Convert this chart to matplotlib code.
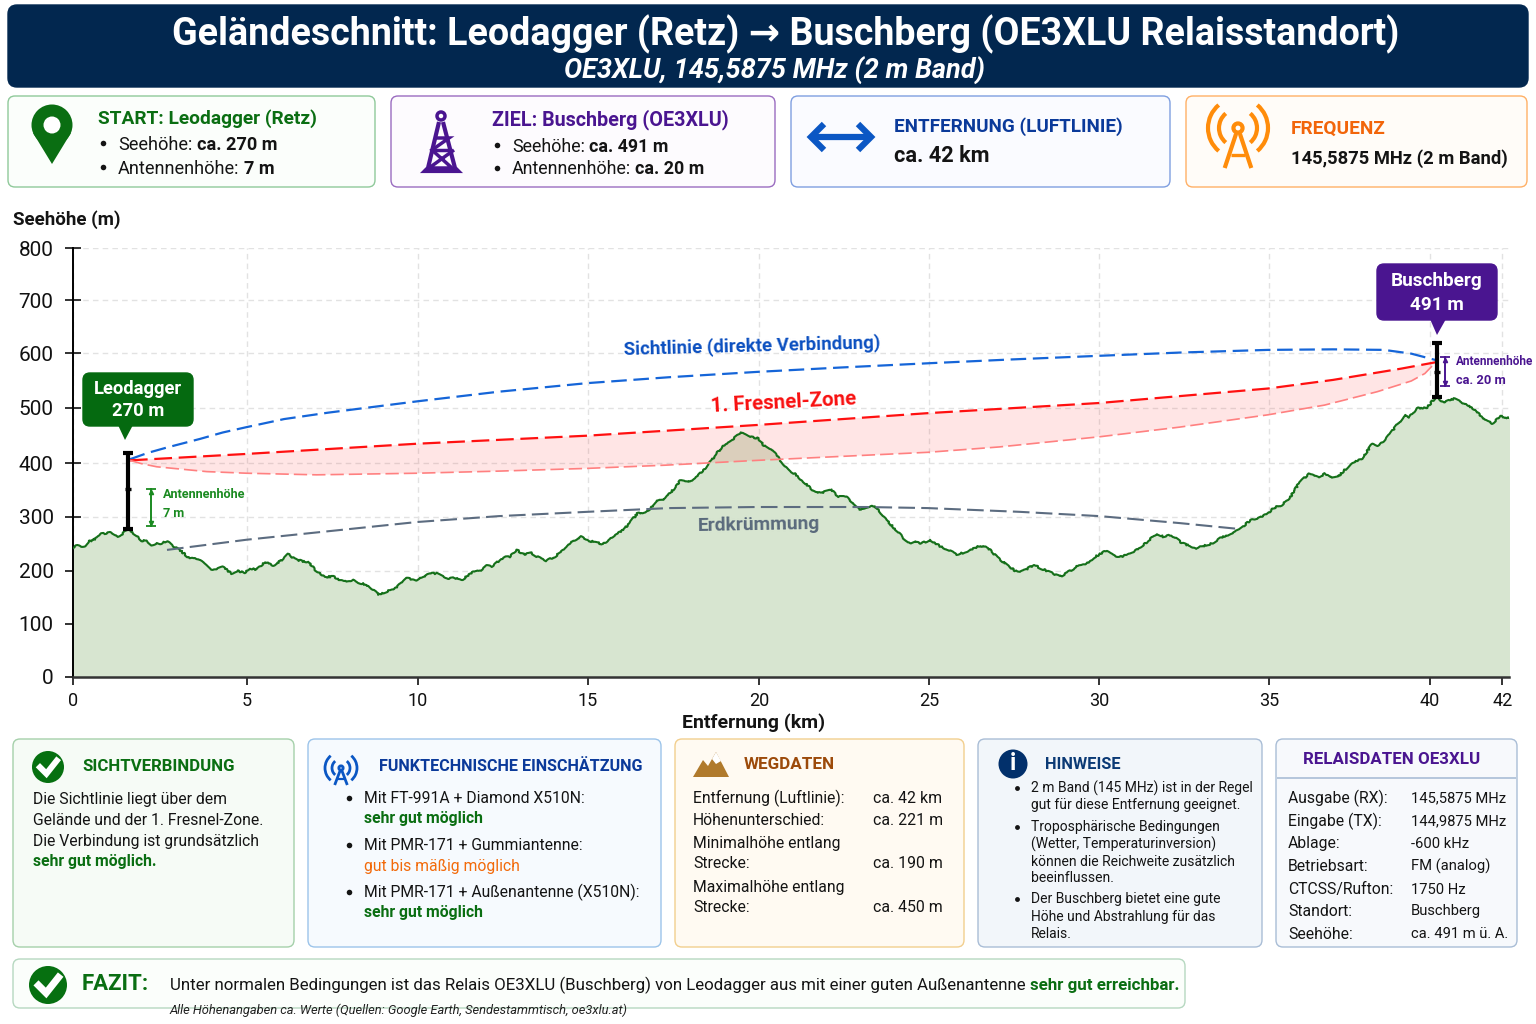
import matplotlib
matplotlib.use('Agg')
import matplotlib.pyplot as plt
from matplotlib.patches import FancyBboxPatch, Circle, Polygon, Arc

plt.rcParams['font.family'] = ['Roboto', 'DejaVu Sans']

# terrain profile
terrain_km = [0.0, .13, .32, .45, .70, .84, 1.09, 1.23, 1.36, 1.53, 1.65, 1.82, 2.02, 2.16, 2.31, 2.46, 2.56, 2.75, 2.95, 3.19,
              3.39, 3.58, 3.78, 4.02, 4.22, 4.40, 4.66, 4.81, 5.05, 5.18, 5.39, 5.64, 5.88, 6.13, 6.32, 6.52, 6.72, 6.91, 7.11, 7.40,
              7.65, 7.94, 8.23, 8.43, 8.62, 8.97, 9.21, 9.51, 9.80, 10.09, 10.48, 10.68, 11.02, 11.22, 11.41, 11.76, 11.95, 12.15, 12.30, 12.64,
              12.83, 13.03, 13.23, 13.47, 13.67, 13.89, 14.16, 14.45, 14.69, 14.92, 15.13, 15.38, 15.56, 15.82, 16.06, 16.31, 16.57, 16.85, 17.19, 17.34,
              17.58, 17.83, 18.07, 18.32, 18.66, 18.90, 19.15, 19.34, 19.61, 19.83, 20.13, 20.27, 20.52, 20.76, 21.06, 21.20, 21.45, 21.69, 21.94, 22.28,
              22.48, 22.72, 23.11, 23.46, 23.60, 23.85, 24.09, 24.39, 24.58, 24.73, 24.92, 25.17, 25.46, 25.71, 25.95, 26.25, 26.64, 26.88, 27.13, 27.42,
              27.72, 27.97, 28.22, 28.47, 28.73, 28.98, 29.23, 29.53, 29.73, 29.98, 30.33, 30.73, 31.14, 31.49, 31.82, 32.04, 32.24, 32.59, 32.99, 33.44,
              33.70, 34.25, 34.55, 35.05, 35.25, 35.50, 35.75, 36.0, 36.29, 36.56, 36.76, 36.91, 37.16, 37.56, 37.86, 38.16, 38.31, 38.57, 38.92, 39.12,
              39.22, 39.47, 39.77, 40.02, 40.27, 40.55, 40.87, 41.18, 41.38, 41.68, 41.93, 42.17]
terrain_m = [240, 246, 243, 252, 259, 267, 269, 263, 262, 271, 274, 265, 254, 254, 246, 250, 248, 254, 244, 234,
             223, 223, 215, 201, 201, 205, 193, 198, 195, 203, 200, 214, 208, 218, 229, 220, 216, 215, 200, 187,
             187, 178, 181, 175, 172, 154, 159, 168, 184, 181, 193, 193, 183, 185, 181, 196, 198, 208, 206, 223,
             224, 237, 229, 231, 223, 216, 225, 240, 254, 262, 254, 251, 247, 261, 270, 284, 305, 308, 330, 329,
             346, 366, 363, 374, 396, 417, 435, 441, 456, 448, 445, 433, 425, 405, 383, 379, 364, 350, 343, 349,
             336, 336, 313, 320, 315, 296, 279, 259, 249, 254, 249, 256, 244, 237, 228, 234, 245, 240, 224, 209,
             196, 200, 209, 201, 195, 187, 196, 208, 209, 223, 235, 223, 234, 249, 267, 261, 265, 249, 240, 249,
             259, 275, 291, 303, 315, 321, 336, 361, 379, 372, 379, 372, 374, 400, 408, 435, 431, 445, 473, 489,
             483, 501, 503, 522, 512, 519, 509, 498, 483, 473, 486, 483]

los_km = [1.67, 2.2, 2.76, 3.73, 4.4, 5.1, 6.2, 7.5, 10.1, 12.5, 15.1, 17.5, 20.1, 22.5, 25.1, 27.5, 30.15, 32.5, 35.1, 37.0, 38.5, 39.3, 40.02]
los_m = [406, 418, 428, 444, 456, 466, 481, 493, 514, 532, 548, 559, 569, 577, 585, 592, 599, 605, 610, 611, 610, 603, 591]

fresnel_top_km = [1.67, 5.1, 10.1, 15.1, 20.1, 25.1, 30.15, 35.1, 37.0, 39.0, 40.02]
fresnel_top_m = [404, 416, 435, 450, 470, 492, 511, 538, 554, 575, 587]
fresnel_low_km = [1.67, 2.0, 2.46, 3.93, 5.1, 7.15, 10.1, 12.54, 15.1, 17.4, 20.1, 25.1, 27.2, 30.15, 32.5, 35.1, 36.75, 38.3, 39.3, 39.7, 40.02]
fresnel_low_m = [404, 398, 392, 383, 380, 377, 380, 384, 389, 395, 404, 419, 429, 448, 466, 489, 507, 532, 552, 566, 587]

earth_km = [2.76, 5.1, 10.1, 12.5, 15.1, 17.5, 20.1, 23.3, 25.1, 27.8, 30.15, 32.5, 34.25]
earth_m = [237, 256, 289, 300, 308, 315, 317, 317, 315, 308, 300, 287, 276]

# the printed scale is slightly uneven, so ticks sit where the labels are drawn
xtick_pos = [0, 5.11, 10.13, 15.12, 20.15, 25.14, 30.13, 35.13, 39.85, 41.97]
xtick_labels = ['0', '5', '10', '15', '20', '25', '30', '35', '40', '42']
ytick_pos = [0, 99, 198, 299, 399, 502, 604, 703, 800]
ytick_labels = ['0', '100', '200', '300', '400', '500', '600', '700', '800']

mast_a = [1.62, 276, 350, 418]
mast_b = [40.05, 522, 569, 623]

GREEN = '#0a6e12'
PURPLE = '#4a1590'
BLUE = '#0b57c4'
NAVY = '#0b3a9a'
ORANGE = '#f47a10'
TEXT = '#141414'

hint_lines = [['2 m Band (145 MHz) ist in der Regel', 'gut für diese Entfernung geeignet.'],
              ['Troposphärische Bedingungen', '(Wetter, Temperaturinversion)', 'können die Reichweite zusätzlich', 'beeinflussen.'],
              ['Der Buschberg bietet eine gute', 'Höhe und Abstrahlung für das', 'Relais.']]
relay_keys = ['Ausgabe (RX):', 'Eingabe (TX):', 'Ablage:', 'Betriebsart:', 'CTCSS/Rufton:', 'Standort:', 'Seehöhe:']
relay_vals = ['145,5875 MHz', '144,9875 MHz', '-600 kHz', 'FM (analog)', '1750 Hz', 'Buschberg', 'ca. 491 m ü. A.']

fig = plt.figure(figsize=(15.36, 10.24), dpi=100)

# chart area, placed by pixels
L, R, T, B = 73, 1509, 248, 677
ax = fig.add_axes([L / 1536, 1 - B / 1024, (R - L) / 1536, (B - T) / 1024])
ax.set_xlim(0, 42.17)
ax.set_ylim(0, 800)
ax.grid(True, color='#e2e2e2', linestyle=(0, (4, 3)), linewidth=1)
ax.set_axisbelow(True)
ax.fill_between(terrain_km, terrain_m, 0, color='#d7e5d0', zorder=2)
terrain_line, = ax.plot(terrain_km, terrain_m, color='#15701a', linewidth=1.5, zorder=4)
terrain_line.set_sketch_params(scale=0.8, length=14, randomness=40)

ax.fill(fresnel_top_km + fresnel_low_km[::-1], fresnel_top_m + fresnel_low_m[::-1], color='#ff3030', alpha=0.12, lw=0, zorder=3)
ax.plot(los_km, los_m, color='#1565d8', lw=1.6, ls=(0, (7, 3)), zorder=5)
ax.plot(fresnel_top_km, fresnel_top_m, color='#ff1010', lw=1.6, ls=(0, (8, 3)), zorder=5)
ax.plot(fresnel_low_km, fresnel_low_m, color='#ff8080', lw=1.2, ls=(0, (8, 3)), zorder=5)
ax.plot(earth_km, earth_m, color='#5c6c80', lw=1.5, ls=(0, (8, 3)), zorder=5)

# masts
for m in (mast_a, mast_b):
    ax.plot([m[0], m[0]], [m[1], m[3]], color='black', lw=3, zorder=6, solid_capstyle='butt')
    ax.plot([m[0], m[0]], [m[1], m[3]], color='black', marker='_', ms=6.5, mew=3, lw=0, zorder=6)
    ax.plot([m[0]], [m[2]], color='black', marker='_', ms=5, mew=2.4, lw=0, zorder=6)

# antenna height brackets
for x, lo, hi, col in ((2.29, 282, 350, '#1a8a20'), (40.3, 543, 597, PURPLE)):
    ax.plot([x, x], [lo, hi], color=col, lw=1.4, zorder=6)
    ax.plot([x, x], [lo, hi], color=col, lw=0, marker='_', ms=7, mew=1.3, zorder=6)
    ax.plot([x], [hi - 5], color=col, marker='^', ms=3, lw=0, zorder=6)
    ax.plot([x], [lo + 5], color=col, marker='v', ms=3, lw=0, zorder=6)

ax.text(19.95, 616, 'Sichtlinie (direkte Verbindung)', color='#0b4fc0', fontsize=13.4, fontweight='bold', rotation=1.5, ha='center', va='center', zorder=7, rotation_mode='anchor')
ax.text(20.85, 511, '1. Fresnel-Zone', color='#f81010', fontsize=14.8, fontweight='bold', rotation=3, ha='center', va='center', zorder=7, rotation_mode='anchor')
ax.text(20.15, 283, 'Erdkrümmung', color='#5a6a7c', fontsize=13.9, fontweight='bold', rotation=1, ha='center', va='center', zorder=7, rotation_mode='anchor')

for s in ('top', 'right'):
    ax.spines[s].set_visible(False)
ax.spines['left'].set_linewidth(1.4)
ax.spines['bottom'].set_linewidth(1.8)
ax.spines['bottom'].set_color('#333333')
ax.set_xticks(xtick_pos)
ax.set_xticklabels(xtick_labels)
ax.set_yticks(ytick_pos)
ax.set_yticklabels(ytick_labels)
ax.tick_params(axis='x', length=6, width=1.2, labelsize=13, pad=5, colors='#111111')
ax.tick_params(axis='y', direction='inout', length=12, width=1.2, labelsize=15, pad=8, colors='#111111')

# everything else lives on an overlay in pixel coordinates
ov = fig.add_axes([0, 0, 1, 1], zorder=10)
ov.set_xlim(0, 1536)
ov.set_ylim(1024, 0)
ov.axis('off')


def txt(x, y, s, size, color=TEXT, weight='normal', style='normal', ha='left', va='center', rot=0):
    return ov.text(x, y + 1.5, s, fontsize=size, color=color, fontweight=weight, fontstyle=style, ha=ha, va=va, rotation=rot)


def runs(x, y, parts, size):
    rend = fig.canvas.get_renderer()
    for s, weight, color in parts:
        t = txt(x, y, s, size, color, weight)
        x += t.get_window_extent(rend).width + size * 0.33


def box(x0, y0, x1, y1, face, edge, lw=1.0, r=7):
    ov.add_patch(FancyBboxPatch((x0, y0), x1 - x0, y1 - y0, boxstyle=f'round,pad=0,rounding_size={r}', fc=face, ec=edge, lw=lw))


def bullet(x, y, size=3.2, color=TEXT):
    ov.plot([x], [y], 'o', color=color, ms=size, mew=0)


def seg(xs, ys, color, lw=3):
    ov.plot(xs, ys, color=color, lw=lw, solid_capstyle='butt', solid_joinstyle='miter')


def radio_icon(cx, cy, base, r1, r2, color, lw=3):
    # small mast with radio waves either side
    ov.add_patch(Circle((cx, cy), r1 * 0.24, fc='white', ec=color, lw=lw))
    seg([cx - r1 * 0.1, cx - r1 * 0.7, cx - r1 * 0.7], [cy + r1 * 0.3, base, base], color, lw)
    seg([cx + r1 * 0.1, cx + r1 * 0.7], [cy + r1 * 0.3, base], color, lw)
    seg([cx - r1 * 0.35, cx + r1 * 0.35], [base - r1 * 0.7, base - r1 * 0.7], color, lw * 0.8)
    for r in (r1, r2):
        for a, b in ((-50, 50), (130, 230)):
            ov.add_patch(Arc((cx, cy), 2 * r, 2 * r, theta1=a, theta2=b, color=color, lw=lw))


def check_icon(cx, cy, r):
    ov.add_patch(Circle((cx, cy), r, fc='#067010', ec='none'))
    ov.plot([cx - r * .5, cx - r * .1, cx + r * .55], [cy + r * .02, cy + r * .42, cy - r * .4], color='white', lw=r * .27, solid_joinstyle='miter')


# header
box(8, 5, 1528, 87, '#02274f', '#02274f', r=9)
txt(786, 33, 'Geländeschnitt: Leodagger (Retz) → Buschberg (OE3XLU Relaisstandort)', 27.1, 'white', 'bold', ha='center')
txt(774, 69, 'OE3XLU, 145,5875 MHz (2 m Band)', 19.5, 'white', 'bold', 'italic', ha='center')

# top cards
box(8, 96, 375, 187, '#fbfefb', '#8fc99a')
box(391, 96, 775, 187, '#fdfbfe', '#9a6cc0')
box(791, 96, 1170, 187, '#fafbff', '#7f9fe0')
box(1186, 96, 1527, 187, '#fffcf8', '#ffb066')

ov.add_patch(Polygon([(33.1, 133), (52, 164), (70.9, 133)], fc=GREEN, ec='none'))
ov.add_patch(Circle((52, 125), 20.5, fc=GREEN, ec='none'))
ov.add_patch(Circle((52, 125), 8.5, fc='white', ec='none'))
txt(98, 117, 'START: Leodagger (Retz)', 13.75, GREEN, 'bold')
bullet(103, 143, 4)
runs(118, 143, [('Seehöhe:', 'normal', TEXT), ('ca. 270 m', 'bold', TEXT)], 13.1)
bullet(103, 167, 4)
runs(118, 167, [('Antennenhöhe:', 'normal', TEXT), ('7 m', 'bold', TEXT)], 13.1)

# tower icon
ov.add_patch(Circle((441, 116), 4, fc='white', ec=PURPLE, lw=2.5))
seg([439, 428, 425, 458, 455, 443], [122, 168, 171, 171, 168, 122], PURPLE, 3)
seg([434, 449, 432, 452, 429, 454], [138, 138, 150, 168, 168, 150], PURPLE, 2.5)
seg([432, 450], [150, 150], PURPLE, 2.5)
txt(492, 118, 'ZIEL: Buschberg (OE3XLU)', 14.2, PURPLE, 'bold')
bullet(497, 145, 4)
runs(512, 145, [('Seehöhe:', 'normal', TEXT), ('ca. 491 m', 'bold', TEXT)], 12.9)
bullet(497, 168, 4)
runs(512, 168, [('Antennenhöhe:', 'normal', TEXT), ('ca. 20 m', 'bold', TEXT)], 12.9)

seg([814, 868], [137, 137], BLUE, 4.5)
seg([824, 811, 824], [124, 137, 150], BLUE, 4.5)
seg([858, 871, 858], [124, 137, 150], BLUE, 4.5)
txt(894, 125, 'ENTFERNUNG (LUFTLINIE)', 13.6, NAVY, 'bold')
txt(894, 155, 'ca. 42 km', 15.7, TEXT, 'bold')

radio_icon(1238, 128, 168, 19, 30, '#ff8c0a', 3)
txt(1291, 127, 'FREQUENZ', 13.7, '#f2650a', 'bold')
txt(1291, 157, '145,5875 MHz (2 m Band)', 13.25, TEXT, 'bold')

# axis titles
txt(13, 218, 'Seehöhe (m)', 13.5, TEXT, 'bold')
txt(754, 721, 'Entfernung (km)', 14, TEXT, 'bold', ha='center')

# site callouts
box(83, 373, 193, 426, '#056a10', '#056a10', r=7)
ov.add_patch(Polygon([(118, 425), (133, 425), (125, 440)], fc='#056a10', ec='none'))
txt(138, 387, 'Leodagger', 13.2, 'white', 'bold', ha='center')
txt(138, 410, '270 m', 13.2, 'white', 'bold', ha='center')
box(1377, 264, 1497, 320, PURPLE, PURPLE, r=7)
ov.add_patch(Polygon([(1430, 319), (1446, 319), (1437, 335)], fc=PURPLE, ec='none'))
txt(1437, 279, 'Buschberg', 13.7, 'white', 'bold', ha='center')
txt(1437, 303, '491 m', 13.7, 'white', 'bold', ha='center')
txt(163, 493, 'Antennenhöhe', 9.1, '#1a8a20', 'bold')
txt(163, 512, '7 m', 9.1, '#1a8a20', 'bold')
txt(1456, 360, 'Antennenhöhe', 8.5, PURPLE, 'bold')
txt(1456, 379, 'ca. 20 m', 9.3, PURPLE, 'bold')

# lower panels
box(13, 739, 294, 947, '#f6fbf6', '#a5d0aa')
box(308, 739, 661, 947, '#f6fafe', '#9cc4ea')
box(675, 739, 964, 947, '#fffaf2', '#f2cf8e')
box(978, 739, 1262, 947, '#f2f6fa', '#a9bdd6')
box(1276, 739, 1517, 947, '#f7f9fc', '#a9bdd6')

check_icon(48, 767, 16)
txt(82, 765, 'SICHTVERBINDUNG', 12.1, GREEN, 'bold')
for y, s in zip([798, 819, 840], ['Die Sichtlinie liegt über dem', 'Gelände und der 1. Fresnel-Zone.', 'Die Verbindung ist grundsätzlich']):
    txt(33, y, s, 11.3)
txt(33, 860, 'sehr gut möglich.', 11.3, GREEN, 'bold')

radio_icon(341, 768, 785, 9, 16, '#0b57c4', 2)
txt(379, 765, 'FUNKTECHNISCHE EINSCHÄTZUNG', 11.6, NAVY, 'bold')
rows = [('Mit FT-991A + Diamond X510N:', 'sehr gut möglich', GREEN, 'bold', 797),
        ('Mit PMR-171 + Gummiantenne:', 'gut bis mäßig möglich', '#f26a0a', 'normal', 844),
        ('Mit PMR-171 + Außenantenne (X510N):', 'sehr gut möglich', GREEN, 'bold', 891)]
for a, b, c, w, y in rows:
    bullet(349, y + 1, 4)
    txt(364, y, a, 11.3)
    txt(364, y + 20.5, b, 11.3, c, w)

# mountain icon
ov.add_patch(Polygon([(693, 777), (703, 760), (708, 766), (716, 752), (729, 777)], fc='#b07a2c', ec='none'))
ov.add_patch(Polygon([(712, 759), (716, 752), (721, 761), (716, 764)], fc='white', ec='none'))
txt(744, 763, 'WEGDATEN', 12.3, '#9c4a0a', 'bold')
route_rows = [('Entfernung (Luftlinie):', 797), ('Höhenunterschied:', 819), ('Minimalhöhe entlang', 842), ('Strecke:', 862), ('Maximalhöhe entlang', 886), ('Strecke:', 906)]
route_vals = [('ca. 42 km', 797), ('ca. 221 m', 819), ('ca. 190 m', 862), ('ca. 450 m', 906)]
for s, y in route_rows:
    txt(693, y, s, 11.3)
for s, y in route_vals:
    txt(873, y, s, 11.4)

ov.add_patch(Circle((1013, 764), 14.5, fc='#02306b', ec='none'))
txt(1013, 762, 'i', 17, 'white', 'bold', ha='center')
txt(1045, 763, 'HINWEISE', 11.8, '#0b3a75', 'bold')
hint_y = [[787, 804], [826, 843, 860, 877], [898, 915, 932]]
for lines, ys in zip(hint_lines, hint_y):
    bullet(1017, ys[0] + 1, 3.5)
    for s, y in zip(lines, ys):
        txt(1031, y, s, 10)

txt(1392, 758, 'RELAISDATEN OE3XLU', 12.2, PURPLE, 'bold', ha='center')
seg([1277, 1516], [778, 778], '#a9bdd6', 1.2)
for k, v, y in zip(relay_keys, relay_vals, [797, 820, 842, 865, 888, 910, 933]):
    txt(1288, y, k, 11.3)
    txt(1411, y, v, 10.6)

# conclusion strip
box(13, 959, 1185, 1008, '#fbfefb', '#b6d8c0')
check_icon(48, 985, 19)
txt(82, 983, 'FAZIT:', 16, GREEN, 'bold')
runs(170, 984, [('Unter normalen Bedingungen ist das Relais OE3XLU (Buschberg) von Leodagger aus mit einer guten Außenantenne', 'normal', TEXT),
                ('sehr gut erreichbar.', 'bold', GREEN)], 12.15)
txt(170, 1009, 'Alle Höhenangaben ca. Werte (Quellen: Google Earth, Sendestammtisch, oe3xlu.at)', 9.25, '#222222', style='italic')

fig.savefig('out.png', dpi=100)
